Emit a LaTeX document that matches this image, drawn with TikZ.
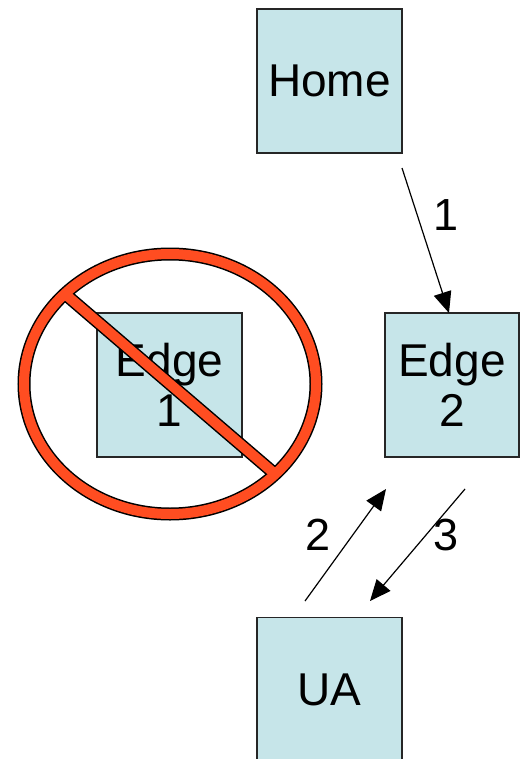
\documentclass[tikz,border=0pt]{standalone}
\usepackage{fontspec}
\setmainfont{Liberation Sans}
\usetikzlibrary{arrows.meta}
\definecolor{boxfill}{HTML}{C6E5E9}
\definecolor{nored}{HTML}{FF4D21}
\tikzset{
  box/.style={draw=black!85, line width=1.2pt, fill=boxfill, inner sep=0pt,
    minimum height=144pt, align=center, font=\fontsize{46}{50}\selectfont},
  flow/.style={line width=1.2pt, -{Triangle[length=21pt,width=18pt]}},
  lbl/.style={font=\fontsize{45}{46}\selectfont, inner sep=0pt},
  ringout/.style={black, line width=13pt},
  ringin/.style={nored, line width=10pt}
}
\begin{document}
\begin{tikzpicture}[x=1pt,y=-1pt]
\useasboundingbox (0,0) rectangle (520,759);
\node[box, minimum width=145pt] (home) at (329.5,81) {Home};
\node[box, minimum width=145pt] (edge1) at (169.5,385) {Edge\\1};
\node[box, minimum width=134pt] (edge2) at (452,385) {Edge\\2};
\node[box, minimum width=145pt] (ua) at (329.5,689.5) {UA};
% no-symbol
\coordinate (nc) at (170,384);
\coordinate (s1) at (65,294);
\coordinate (s2) at (275,474);
\draw[ringout] (nc) ellipse [x radius=146, y radius=130];
\draw[ringout] (s1) -- (s2);
\draw[ringin] (nc) ellipse [x radius=146, y radius=130];
\draw[ringin] (s1) -- (s2);
% arrows
\coordinate (a1s) at (402,168);
\coordinate (a1e) at (449,313);
\coordinate (a2s) at (305,601);
\coordinate (a2e) at (386,489);
\coordinate (a3s) at (465,489);
\coordinate (a3e) at (370,601);
\draw[flow] (a1s) -- (a1e);
\draw[flow] (a2s) -- (a2e);
\draw[flow] (a3s) -- (a3e);
\node[lbl] (l1) at (446,215) {1};
\node[lbl] (l2) at (318,535) {2};
\node[lbl] (l3) at (446,535) {3};
\end{tikzpicture}
\end{document}
